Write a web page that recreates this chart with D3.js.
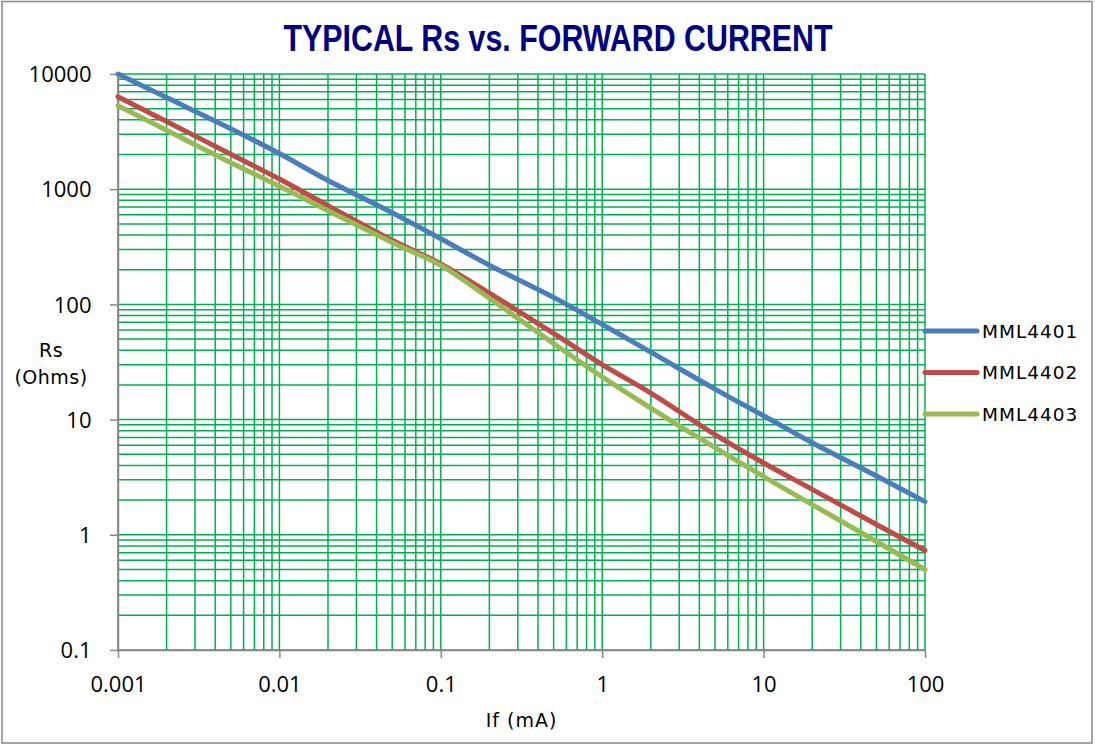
<!DOCTYPE html>
<html>
<head>
<meta charset="utf-8">
<script src="https://cdn.jsdelivr.net/npm/d3@7"></script>
<style>
  html, body { margin: 0; padding: 0; background: #fff; }
  svg { display: block; }
</style>
</head>
<body>
<svg id="chart" width="1095" height="745"></svg>
<script>
// ---- data ----
const currents = [0.001, 0.002, 0.005, 0.01, 0.02, 0.05, 0.1, 0.2, 0.5, 1, 2, 5, 10, 20, 50, 100];
const mml4401 = [10000, 6240, 3350, 2040, 1190, 624, 371, 219, 115, 67, 38.5, 18.4, 10.8, 6.3, 3.24, 1.94];
const mml4402 = [6350, 3870, 2010, 1225, 720, 360, 225, 125, 56, 30, 17, 7.4, 4.2, 2.48, 1.23, 0.73];
const mml4403 = [5300, 3250, 1700, 1060, 650, 345, 218, 113, 45.7, 23.5, 12.6, 5.7, 3.2, 1.83, 0.875, 0.50];
const seriesNames = ["MML4401", "MML4402", "MML4403"];
const seriesColors = ["#4A7EBB", "#BE4B48", "#98B954"];
const xTickValues = [0.001, 0.01, 0.1, 1, 10, 100];
const xTickLabels = ["0.001", "0.01", "0.1", "1", "10", "100"];
const yTickValues = [0.1, 1, 10, 100, 1000, 10000];
const yTickLabels = ["0.1", "1", "10", "100", "1000", "10000"];
const titleText = "TYPICAL Rs vs. FORWARD CURRENT";
const xTitle = "If (mA)";
const yTitle = ["Rs", "(Ohms)"];

const svg = d3.select("#chart");

// outer frame
svg.append("rect").attr("x", 2).attr("y", 1.5).attr("width", 1090).attr("height", 741.5)
  .attr("fill", "#fff").attr("stroke", "#878787").attr("stroke-width", 1.5);

const x = d3.scaleLog().domain([0.001, 100]).range([118, 925]);
const y = d3.scaleLog().domain([0.1, 10000]).range([650, 74]);

// gridline values (1..9 per decade)
function gridVals(lo, hi) {
  const out = [];
  for (let d = lo; d < hi * 0.999; d *= 10) {
    for (let m = 1; m <= 9; m++) out.push(+(d * m).toPrecision(3));
  }
  out.push(hi);
  return out;
}
const grid = svg.append("g");
grid.selectAll("line.v").data(gridVals(0.001, 100)).join("line")
  .attr("x1", d => x(d)).attr("x2", d => x(d))
  .attr("y1", y(10000)).attr("y2", y(0.1))
  .attr("stroke", "#00B050").attr("stroke-width", 1.5);
grid.selectAll("line.h").data(gridVals(0.1, 10000)).join("line")
  .attr("x1", x(0.001)).attr("x2", x(100))
  .attr("y1", d => y(d)).attr("y2", d => y(d))
  .attr("stroke", "#00B050").attr("stroke-width", 1.5);

// axes
const yAxis = svg.append("g").attr("transform", `translate(${x(0.001)},0)`)
  .call(d3.axisLeft(y).tickValues(yTickValues).tickSize(8).tickSizeOuter(0).tickPadding(18.5)
    .tickFormat((d, i) => yTickLabels[i]));
const xAxis = svg.append("g").attr("transform", `translate(0,${y(0.1)})`)
  .call(d3.axisBottom(x).tickValues(xTickValues).tickSize(8).tickSizeOuter(0)
    .tickFormat((d, i) => xTickLabels[i]));
[yAxis, xAxis].forEach(a => {
  a.select(".domain").attr("stroke", "#878787").attr("stroke-width", 1.5);
  a.selectAll(".tick line").attr("stroke", "#878787").attr("stroke-width", 1.5);
  a.selectAll(".tick text").attr("fill", "#000")
    .style("font-family", "'Open Sans', 'Liberation Sans', sans-serif").style("font-size", "22px");
});
yAxis.selectAll(".tick text").attr("dy", "0.35em");
xAxis.selectAll(".tick text").attr("y", 42).attr("dy", 0);

// series
const line = d3.line().x(d => x(d[0])).y(d => y(d[1])).curve(d3.curveCatmullRom.alpha(0.5));
const allSeries = [mml4401, mml4402, mml4403];
allSeries.forEach((vals, i) => {
  svg.append("path")
    .datum(currents.map((c, j) => [c, vals[j]]))
    .attr("d", line).attr("fill", "none")
    .attr("stroke", seriesColors[i]).attr("stroke-width", 5)
    .attr("stroke-linejoin", "round").attr("stroke-linecap", "round");
});

// title
svg.append("text").attr("x", 558).attr("y", 51).attr("text-anchor", "middle")
  .attr("textLength", 549).attr("lengthAdjust", "spacingAndGlyphs")
  .style("font-family", "'Liberation Sans Narrow', 'Liberation Sans', Arial, sans-serif")
  .style("font-weight", "bold").style("font-size", "36px").attr("fill", "#000080")
  .text(titleText);

// axis titles
const labelFont = "'DejaVu Sans', Verdana, sans-serif";
svg.append("text").attr("x", 521.5).attr("y", 727).attr("text-anchor", "middle")
  .style("font-family", labelFont).style("font-size", "19px").style("letter-spacing", "1px")
  .attr("fill", "#000").text(xTitle);
yTitle.forEach((t, i) => {
  svg.append("text").attr("x", 51).attr("y", 357 + i * 27).attr("text-anchor", "middle")
    .style("font-family", labelFont).style("font-size", "19px").style("letter-spacing", "0.5px")
    .attr("fill", "#000").text(t);
});

// legend
const legY = [331, 372.5, 414];
seriesNames.forEach((n, i) => {
  svg.append("line").attr("x1", 925).attr("x2", 977).attr("y1", legY[i]).attr("y2", legY[i])
    .attr("stroke", seriesColors[i]).attr("stroke-width", 5).attr("stroke-linecap", "round");
  svg.append("text").attr("x", 982).attr("y", legY[i]).attr("dy", "0.36em")
    .style("font-family", labelFont).style("font-size", "18.5px").style("letter-spacing", "1px")
    .attr("fill", "#000").text(n);
});
</script>
</body>
</html>
